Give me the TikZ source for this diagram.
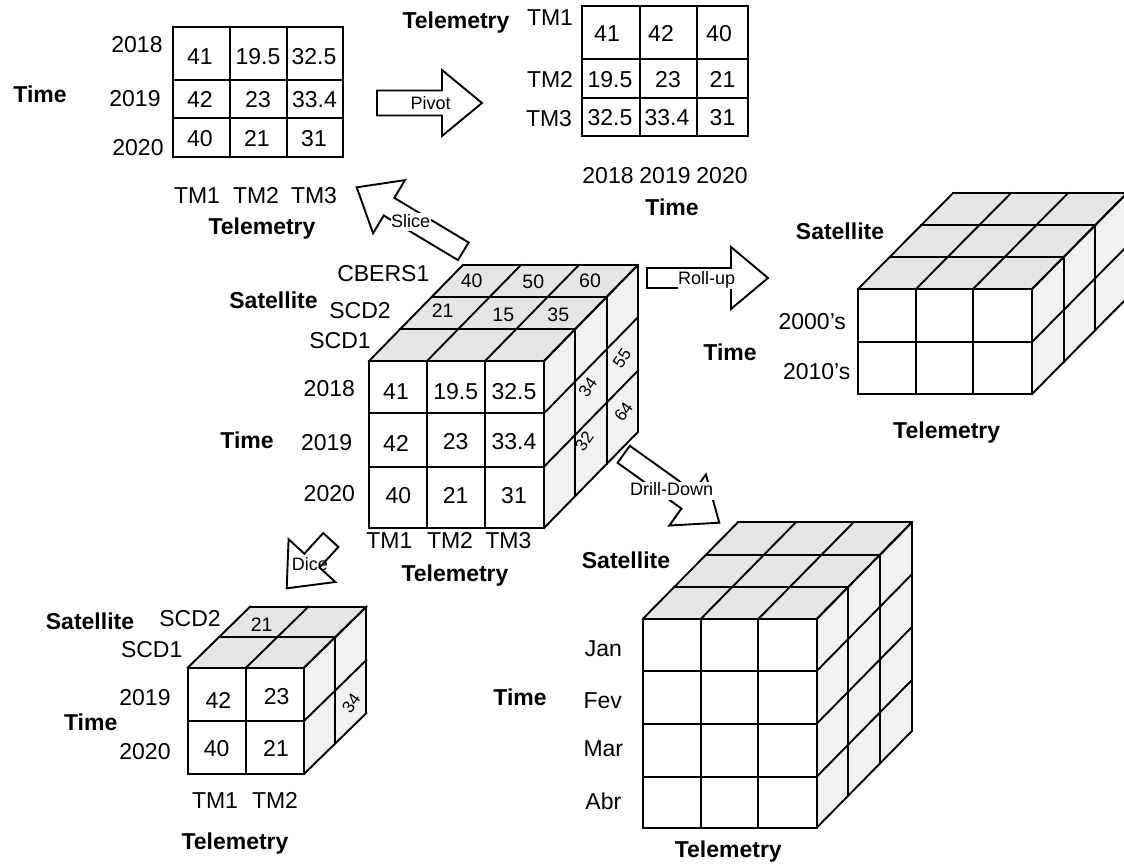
\documentclass[tikz,border=0pt]{standalone}
\usepackage{fontspec}
\setmainfont{Liberation Sans}
\usetikzlibrary{calc}
\tikzset{
  gl/.style={line width=1.9pt, line join=miter, line cap=rect},
  topface/.style={fill=gray!20},
  sideface/.style={fill=gray!11},
  rl/.style={font=\fontsize{23}{27}\selectfont, inner sep=0pt, text height=16.5pt, text depth=0pt},
  bl/.style={font=\fontsize{23}{27}\selectfont\bfseries, inner sep=0pt, text height=16.5pt, text depth=0pt},
  al/.style={font=\fontsize{18}{21}\selectfont, inner sep=0.6pt, text height=13pt, text depth=3.6pt},
  tv/.style={font=\fontsize{19.5}{23}\selectfont, inner sep=0pt, text height=14pt, text depth=0pt},
  sv/.style={font=\fontsize{17}{20}\selectfont, inner sep=0pt, text height=12.2pt, text depth=0pt, rotate=55},
}
% cube: x0, x1, y0, y1, inner xs, inner ys, layer dx, layer dy, layers
\newcommand{\olcube}[9]{%
  \pgfmathsetmacro\cDX{#9*#7}\pgfmathsetmacro\cDY{#9*#8}%
  \fill[topface] (#1,#3) -- (#2,#3) -- ({#2+\cDX},{#3+\cDY}) -- ({#1+\cDX},{#3+\cDY}) -- cycle;
  \fill[sideface] (#2,#3) -- (#2,#4) -- ({#2+\cDX},{#4+\cDY}) -- ({#2+\cDX},{#3+\cDY}) -- cycle;
  \fill[white] (#1,#3) rectangle (#2,#4);
  \foreach \xx in {#1,#5,#2} {\draw[gl] (\xx,#3) -- ++(\cDX,\cDY); \draw[gl] (\xx,#3) -- (\xx,#4);}
  \foreach \yy in {#3,#6,#4} {\draw[gl] (#2,\yy) -- ++(\cDX,\cDY); \draw[gl] (#1,\yy) -- (#2,\yy);}
  \foreach \kk in {0,...,#9} {\draw[gl] ({#1+\kk*#7},{#3+\kk*#8}) -- ({#2+\kk*#7},{#3+\kk*#8}) -- ({#2+\kk*#7},{#4+\kk*#8});}
}
% block arrow: name, tail, tip, shaft half width, head half width, head length
\newcommand{\opArrow}[6]{%
  \coordinate (#1-t) at #2;
  \coordinate (#1-p) at #3;
  \coordinate (#1-b) at ($(#1-p)!#6!(#1-t)$);
  \draw[gl, fill=white, line join=miter]
    ($(#1-t)!#4!90:(#1-p)$) -- ($(#1-b)!#4!90:(#1-p)$) -- ($(#1-b)!#5!90:(#1-p)$)
    -- (#1-p) -- ($(#1-b)!#5!-90:(#1-p)$) -- ($(#1-b)!#4!-90:(#1-p)$)
    -- ($(#1-t)!#4!-90:(#1-p)$) -- cycle;
}
\begin{document}
\begin{tikzpicture}[x=1pt,y=-1pt]
\useasboundingbox (0,0) rectangle (1124,865);
\fill[white] (0,0) rectangle (1124,865);
\clip (0,0) rectangle (1124,865);

% ---------- top-left table ----------
\draw[gl] (173.3,27.3) rectangle (343.3,156.7);
\draw[gl] (230,27.3) -- (230,156.7) (287,27.3) -- (287,156.7)
          (173.3,80) -- (343.3,80) (173.3,118.3) -- (343.3,118.3);
\node[rl] (a11) at (200,56) {41};   \node[rl] (a12) at (258,56) {19.5}; \node[rl] (a13) at (314,56) {32.5};
\node[rl] (a21) at (200,99) {42};   \node[rl] (a22) at (258,99) {23};   \node[rl] (a23) at (314.5,99) {33.4};
\node[rl] (a31) at (200,138) {40};  \node[rl] (a32) at (257,138) {21};  \node[rl] (a33) at (314,138) {31};
\node[rl] (ay1) at (137,44) {2018};
\node[rl] (ay2) at (135,98) {2019};
\node[rl] (ay3) at (138,147) {2020};
\node[bl] (atime) at (40,94) {Time};
\node[rl] (atm1) at (197,195) {TM1};
\node[rl] (atm2) at (256,195) {TM2};
\node[rl] (atm3) at (314,195) {TM3};
\node[bl] (atel) at (262,226) {Telemetry};

% ---------- top-right table ----------
\draw[gl] (581.7,6) rectangle (748.3,136);
\draw[gl] (640,6) -- (640,136) (696.7,6) -- (696.7,136)
          (581.7,59.3) -- (748.3,59.3) (581.7,98.3) -- (748.3,98.3);
\node[rl] (b11) at (607,33) {41};   \node[rl] (b12) at (661,33) {42};   \node[rl] (b13) at (719,33) {40};
\node[rl] (b21) at (610,79) {19.5}; \node[rl] (b22) at (668,79) {23};   \node[rl] (b23) at (722.5,79) {21};
\node[rl] (b31) at (610,117) {32.5};\node[rl] (b32) at (667,117) {33.4};\node[rl] (b33) at (722.5,117) {31};
\node[bl] (btel) at (456,20) {Telemetry};
\node[rl] (btm1) at (550,17) {TM1};
\node[rl] (btm2) at (550,79) {TM2};
\node[rl] (btm3) at (549,118) {TM3};
\node[rl] (by1) at (608,175) {2018};
\node[rl] (by2) at (665,175) {2019};
\node[rl] (by3) at (722,175) {2020};
\node[bl] (btime) at (672,207) {Time};

% ---------- arrows ----------
\opArrow{piv}{(377,103)}{(482,103)}{12.5pt}{33pt}{40pt}
\node[al] (lpiv) at (430.7,105) {Pivot};
\opArrow{sli}{(463.3,251.3)}{(356.7,187.3)}{10.3pt}{31pt}{37.7pt}
\node[al, fill=white] (lsli) at (410.7,222.3) {Slice};
\opArrow{rol}{(647,278)}{(768,278)}{10pt}{31pt}{37pt}
\node[al, fill=white] (lrol) at (706.7,280) {Roll-up};
\opArrow{dri}{(623.7,454.3)}{(719.3,522.7)}{10.5pt}{31.4pt}{39pt}
\node[al, fill=white] (ldri) at (671.7,491) {Drill-Down};
\opArrow{dic}{(330.8,540)}{(286.7,588.3)}{10.3pt}{31.7pt}{37.5pt}
\node[al] (ldic) at (310,566) {Dice};

% ---------- central cube ----------
\olcube{369}{544}{361}{528}{427,485}{413.3,466.7}{31.3}{-32}{3}
\node[rl] (c11) at (396,391.7) {41};   \node[rl] (c12) at (455.7,391.7) {19.5}; \node[rl] (c13) at (514,391.7) {32.5};
\node[rl] (c21) at (396,443.3) {42};   \node[rl] (c22) at (455.7,441.7) {23};   \node[rl] (c23) at (514,441.7) {33.4};
\node[rl] (c31) at (398.3,495) {40};   \node[rl] (c32) at (455.7,495) {21};     \node[rl] (c33) at (514,495) {31};
\node[tv] (ct1) at (471.7,280.7) {40};
\node[tv] (ct2) at (533.3,281.7) {50};
\node[tv] (ct3) at (590,280.7) {60};
\node[tv] (ct4) at (442.7,310.7) {21};
\node[tv] (ct5) at (503.3,314.3) {15};
\node[tv] (ct6) at (558.3,314) {35};
\node[sv] (cs1) at (587.5,387) {34};
\node[sv] (cs2) at (584,441) {32};
\node[sv] (cs3) at (621.7,358.3) {55};
\node[sv] (cs4) at (623.3,411.7) {64};
\node[rl] (cs-cb) at (383.3,273.3) {CBERS1};
\node[rl] (cs-s2) at (360,310) {SCD2};
\node[rl] (cs-s1) at (340,340) {SCD1};
\node[bl] (csat) at (273.5,300) {Satellite};
\node[rl] (cy1) at (329.3,388.3) {2018};
\node[rl] (cy2) at (326.7,442.7) {2019};
\node[rl] (cy3) at (329.3,493.3) {2020};
\node[bl] (ctime) at (247,440) {Time};
\node[rl] (ctm1) at (389.3,540) {TM1};
\node[rl] (ctm2) at (450,540) {TM2};
\node[rl] (ctm3) at (508.3,540) {TM3};
\node[bl] (ctel) at (455,573) {Telemetry};

% ---------- roll-up cube ----------
\olcube{858}{1032}{289}{394}{916,973}{342}{31.7}{-32}{3}
\node[bl] (rsat) at (840,231.7) {Satellite};
\node[rl] (ry1) at (812.3,321.7) {2000's};
\node[bl] (rtime) at (730,352.7) {Time};
\node[rl] (ry2) at (816.7,371.7) {2010's};
\node[bl] (rtel) at (946.7,430) {Telemetry};

% ---------- drill-down cube ----------
\olcube{642.7}{816.7}{619}{827.7}{700.7,758.3}{671,723.7,776.7}{31.7}{-32.2}{3}
\node[bl] (dsat) at (626,560.7) {Satellite};
\node[rl] (dm1) at (603.3,648.3) {Jan};
\node[rl] (dm2) at (602.7,700.7) {Fev};
\node[rl] (dm3) at (603.3,748.3) {Mar};
\node[rl] (dm4) at (603.3,801.7) {Abr};
\node[bl] (dtime) at (520,697) {Time};
\node[bl] (dtel) at (728.3,849) {Telemetry};

% ---------- dice cube ----------
\olcube{187.7}{304}{667.7}{774}{246}{721}{31.2}{-30.5}{2}
\node[rl] (e11) at (218.3,700) {42};  \node[rl] (e12) at (276.7,696.7) {23};
\node[rl] (e21) at (216.7,748.3) {40}; \node[rl] (e22) at (276,748.3) {21};
\node[tv] (et1) at (261.7,624.3) {21};
\node[sv] (es1) at (351,703) {34};
\node[bl] (esat) at (90,621.7) {Satellite};
\node[rl] (es2) at (190,618.3) {SCD2};
\node[rl] (es1l) at (151.7,649.3) {SCD1};
\node[rl] (ey1) at (145,697.7) {2019};
\node[bl] (etime) at (90.7,722.7) {Time};
\node[rl] (ey2) at (145,751.7) {2020};
\node[rl] (etm1) at (215,800) {TM1};
\node[rl] (etm2) at (275,800) {TM2};
\node[bl] (etel) at (235,841) {Telemetry};
\end{tikzpicture}
\end{document}
